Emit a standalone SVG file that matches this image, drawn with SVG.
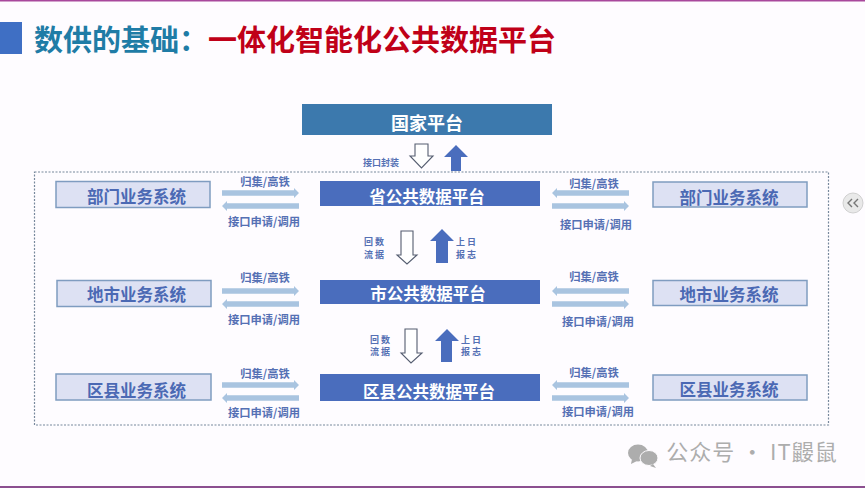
<svg xmlns="http://www.w3.org/2000/svg" width="865" height="488" viewBox="0 0 865 488">
<style>
text{font-family:"Noto Sans CJK SC","Liberation Sans",sans-serif;font-weight:700;text-anchor:middle}
.sys rect{fill:#dde1f3;stroke:#7f9cc0;stroke-width:1.5}
.sys text{font-size:16.5px;fill:#4b69b4}
.plat rect{fill:#4a6dbd}
.plat text{font-size:16.5px;fill:#fff}
.lab{font-size:11.3px;fill:#5570b4}
.small{font-size:9px;fill:#5570b4}
.lbar{fill:#a9c4e0}
.up{fill:#4a6dbd}
.down{fill:#fff;stroke:#555d70;stroke-width:1.1}
.title{font-size:29px;text-anchor:start}
</style>
<defs>
<path id="r" class="lbar" d="M0-2.8H72V-5L77 0 72 5V2.800H0Z"/>
<path id="l" class="lbar" d="M77-2.800H5V-5L0 0 5 5V2.800H77Z"/>
</defs>
<rect width="865" height="488" fill="#fefcff"/>
<rect width="865" height="1.500" fill="#a8489c"/>
<rect y="486" width="865" height="2" fill="#8c4f90"/>
<rect x="0" y="22" width="22" height="32" fill="#3f6fc4"/>
<text class="title" x="34" y="51" fill="#1f7ca6">数供的基础：</text>
<text class="title" x="208" y="51" fill="#c00018">一体化智能化公共数据平台</text>

<g id="connectors">
<rect x="34.500" y="172" width="794" height="253" fill="none" stroke="#77889c" stroke-width="1.200" stroke-dasharray="2 1.500"/>
<path class="down" d="M415 144H428V156H433L421.500 168 410 156H415Z"/>
<path class="up" d="M456 145 468 157H461V171H451V157H444Z"/>
<path class="down" d="M401 231H413V255H417L407 264 397 255H401Z"/>
<path class="up" d="M442 229 454 241H448V263H436V241H430Z"/>
<path class="down" d="M405 329H417V353H422L411 363 401 353H405Z"/>
<path class="up" d="M447 329 459 341H452V362H441V341H435Z"/>
<use href="#r" x="222" y="193"/><use href="#l" x="222" y="206"/>
<use href="#l" x="552" y="193"/><use href="#r" x="552" y="206"/>
<use href="#r" x="222" y="291"/><use href="#l" x="222" y="304"/>
<use href="#l" x="552" y="291"/><use href="#r" x="552" y="304"/>
<use href="#r" x="222" y="385"/><use href="#l" x="222" y="398"/>
<use href="#l" x="552" y="385"/><use href="#r" x="552" y="398"/>
<text class="small" x="381" y="166">接口封装</text>
<text class="lab" x="265" y="186">归集/高铁</text><text class="lab" x="264" y="226">接口申请/调用</text>
<text class="lab" x="594" y="188">归集/高铁</text><text class="lab" x="596" y="229">接口申请/调用</text>
<text class="lab" x="265" y="282">归集/高铁</text><text class="lab" x="264" y="324">接口申请/调用</text>
<text class="lab" x="594" y="281">归集/高铁</text><text class="lab" x="598" y="326">接口申请/调用</text>
<text class="lab" x="265" y="378">归集/高铁</text><text class="lab" x="264" y="417">接口申请/调用</text>
<text class="lab" x="594" y="377">归集/高铁</text><text class="lab" x="598" y="416">接口申请/调用</text>
<text class="small" x="375" y="245" letter-spacing="2">回数</text><text class="small" x="375" y="258" letter-spacing="2">流据</text>
<text class="small" x="467" y="245" letter-spacing="2">上日</text><text class="small" x="467" y="258" letter-spacing="2">报志</text>
<text class="small" x="381" y="343" letter-spacing="2">回数</text><text class="small" x="381" y="355" letter-spacing="2">流据</text>
<text class="small" x="472" y="343" letter-spacing="2">上日</text><text class="small" x="472" y="355" letter-spacing="2">报志</text>
</g>

<g id="national" class="plat"><rect x="302" y="104" width="250" height="31" style="fill:#3c79ad"/><text x="427" y="130" style="font-size:18px">国家平台</text></g>
<g id="prov" class="plat"><rect x="320" y="181" width="220" height="25"/><text x="427" y="203">省公共数据平台</text></g>
<g id="city" class="plat"><rect x="320" y="280" width="220" height="24"/><text x="428" y="300">市公共数据平台</text></g>
<g id="county" class="plat"><rect x="320" y="374" width="220" height="27"/><text x="429" y="398">区县公共数据平台</text></g>

<g id="sl1" class="sys"><rect x="56" y="181.500" width="154" height="26"/><text x="136.500" y="203">部门业务系统</text></g>
<g id="sl2" class="sys"><rect x="57" y="280.500" width="154" height="26"/><text x="136.500" y="301">地市业务系统</text></g>
<g id="sl3" class="sys"><rect x="56" y="374" width="155" height="26"/><text x="136.500" y="397">区县业务系统</text></g>
<g id="sr1" class="sys"><rect x="653" y="182" width="154" height="25"/><text x="729" y="204">部门业务系统</text></g>
<g id="sr2" class="sys"><rect x="653" y="280.500" width="154" height="25"/><text x="729" y="301">地市业务系统</text></g>
<g id="sr3" class="sys"><rect x="653" y="375" width="154" height="25"/><text x="729" y="396">区县业务系统</text></g>

<g id="collapse"><circle cx="853" cy="203" r="10" fill="#e9e9e9" stroke="#d0d0d0"/><path d="M852 199l-4 4 4 4M858 199l-4 4 4 4" fill="none" stroke="#777" stroke-width="1.400"/></g>
<g id="watermark">
<ellipse cx="638" cy="453" rx="10" ry="8.500" fill="#adadad"/><path d="M632 459l-1 5 6-3z" fill="#adadad"/>
<ellipse cx="649" cy="458" rx="9" ry="7.500" fill="#adadad" stroke="#fefcff"/><path d="M653 464l3 4-6-2z" fill="#adadad"/>
<text x="752" y="460" style="font-size:22px;font-weight:400" fill="#adadad" letter-spacing="1">公众号 · IT鼹鼠</text>
</g>
</svg>
